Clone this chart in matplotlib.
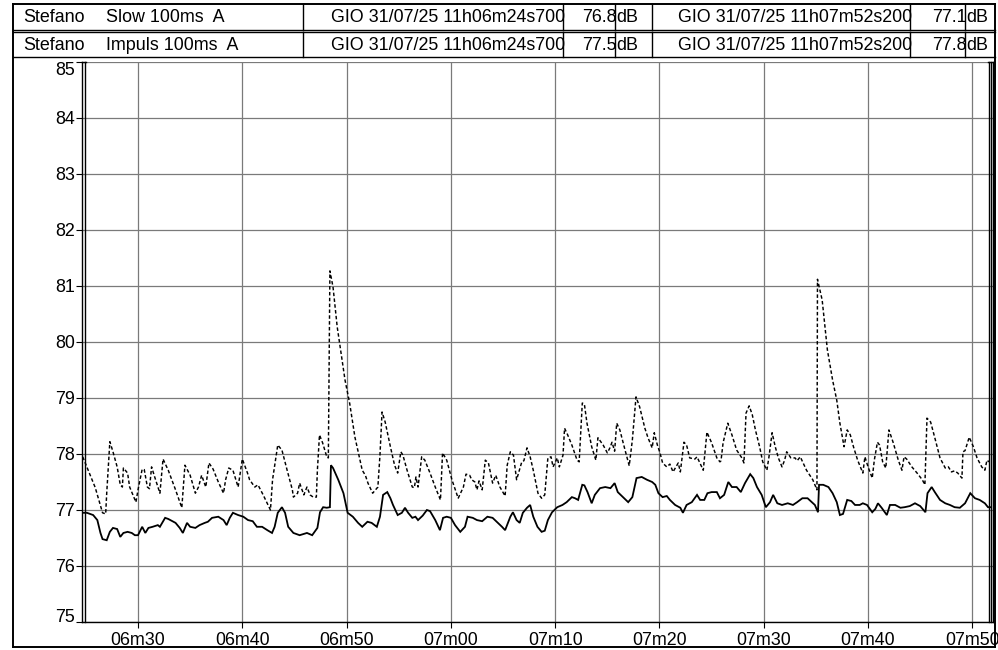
import numpy as np
import matplotlib
matplotlib.use("Agg")
from matplotlib import pyplot as plt
from matplotlib.lines import Line2D

plt.rcParams['font.family'] = ['Liberation Sans', 'DejaVu Sans']

W, H = 998, 650

# Kopfzeile
operator = "Stefano"
channels = ["Slow 100ms  A", "Impuls 100ms  A"]
cursor1_label = "GIO 31/07/25 11h06m24s700"
cursor2_label = "GIO 31/07/25 11h07m52s200"
cursor1_level = ["76.8", "77.5"]
cursor2_level = ["77.1", "77.8"]

# Zeitachse (Sekunden ab 11h06m00)
tick_secs = [30, 40, 50, 60, 70, 80, 90, 100, 110]
tick_labels = ["06m30", "06m40", "06m50", "07m00", "07m10",
               "07m20", "07m30", "07m40", "07m50"]
y_ticks = [75, 76, 77, 78, 79, 80, 81, 82, 83, 84, 85]

# Slow 100ms A (durchgezogen)
slow_t = [24.7, 25.1, 25.7, 26.1, 26.4, 26.6, 27.0, 27.3, 27.6, 28.0, 28.3, 28.6,
          29.0, 29.4, 29.7, 30.0, 30.4, 30.7, 31.0, 31.4, 31.9, 32.1, 32.6, 32.9,
          33.6, 34.0, 34.3, 34.7, 35.0, 35.5, 35.9, 36.4, 36.7, 37.1, 37.7, 38.2,
          38.5, 38.8, 39.1, 39.6, 40.1, 40.55, 41.0, 41.4, 41.9, 42.4, 42.85, 43.1,
          43.4, 43.8, 44.1, 44.4, 44.9, 45.5, 46.2, 46.7, 47.2, 47.45, 47.75, 48.1,
          48.4, 48.5, 48.7, 49.2, 49.7, 50.1, 50.6, 51.1, 51.5, 52.0, 52.4, 52.9,
          53.2, 53.5, 53.9, 54.2, 54.45, 54.9, 55.3, 55.6, 55.9, 56.3, 56.6, 56.85,
          57.3, 57.7, 58.0, 58.5, 58.95, 59.25, 59.6, 60.0, 60.4, 60.9, 61.35, 61.6,
          62.1, 62.5, 63.0, 63.5, 64.0, 64.4, 64.9, 65.2, 65.7, 65.95, 66.3, 66.6,
          66.9, 67.3, 67.6, 67.9, 68.3, 68.7, 69.0, 69.3, 69.7, 70.2, 70.7, 71.1,
          71.6, 71.9, 72.2, 72.6, 72.8, 73.1, 73.5, 73.8, 74.3, 74.8, 75.3, 75.7,
          76.0, 76.5, 77.0, 77.4, 77.8, 78.3, 78.8, 79.3, 79.6, 79.9, 80.3, 80.7,
          81.0, 81.5, 82.0, 82.25, 82.6, 83.1, 83.6, 83.9, 84.3, 84.6, 85.0, 85.5,
          85.8, 86.2, 86.6, 86.95, 87.4, 87.8, 88.2, 88.7, 89.0, 89.35, 89.8, 90.2,
          90.6, 90.9, 91.3, 91.75, 92.3, 92.8, 93.2, 93.7, 94.2, 94.6, 94.9, 95.2,
          95.3, 95.7, 96.2, 96.6, 97.0, 97.3, 97.6, 98.0, 98.4, 98.75, 99.2, 99.5,
          99.9, 100.4, 100.7, 100.95, 101.3, 101.8, 102.1, 102.6, 103.1, 103.5, 104.0, 104.5,
          105.0, 105.5, 105.7, 106.1, 106.4, 106.9, 107.4, 107.85, 108.3, 108.8, 109.3, 109.8,
          110.25, 110.7, 111.2, 111.5, 111.7]
slow_db = [76.95, 76.95, 76.91, 76.82, 76.59, 76.48, 76.46, 76.61, 76.68, 76.66, 76.52, 76.59,
           76.61, 76.59, 76.55, 76.55, 76.70, 76.59, 76.68, 76.70, 76.73, 76.70, 76.86, 76.84,
           76.77, 76.68, 76.59, 76.77, 76.70, 76.68, 76.73, 76.77, 76.79, 76.86, 76.88, 76.82,
           76.73, 76.86, 76.95, 76.91, 76.88, 76.82, 76.80, 76.70, 76.70, 76.64, 76.59, 76.70,
           76.95, 77.05, 76.95, 76.70, 76.59, 76.55, 76.59, 76.55, 76.68, 76.96, 77.05, 77.04,
           77.05, 77.80, 77.75, 77.54, 77.30, 76.95, 76.88, 76.77, 76.70, 76.79, 76.77, 76.70,
           76.88, 77.27, 77.32, 77.21, 77.09, 76.91, 76.95, 77.04, 76.95, 76.86, 76.88, 76.82,
           76.90, 77.00, 76.98, 76.82, 76.64, 76.86, 76.88, 76.86, 76.73, 76.61, 76.70, 76.88,
           76.86, 76.82, 76.80, 76.88, 76.86, 76.79, 76.70, 76.64, 76.88, 76.96, 76.82, 76.77,
           76.95, 77.04, 77.09, 76.88, 76.70, 76.61, 76.63, 76.82, 76.96, 77.05, 77.09, 77.14,
           77.23, 77.21, 77.18, 77.45, 77.44, 77.32, 77.12, 77.27, 77.39, 77.41, 77.39, 77.48,
           77.32, 77.23, 77.14, 77.23, 77.57, 77.59, 77.54, 77.50, 77.45, 77.30, 77.23, 77.25,
           77.18, 77.09, 77.04, 76.95, 77.09, 77.14, 77.27, 77.18, 77.18, 77.30, 77.32, 77.32,
           77.21, 77.27, 77.50, 77.41, 77.41, 77.32, 77.48, 77.64, 77.57, 77.41, 77.27, 77.05,
           77.14, 77.27, 77.12, 77.09, 77.12, 77.09, 77.14, 77.21, 77.21, 77.14, 77.09, 76.96,
           77.45, 77.45, 77.41, 77.30, 77.14, 76.91, 76.93, 77.18, 77.16, 77.09, 77.09, 77.12,
           77.09, 76.96, 77.02, 77.12, 77.04, 76.91, 77.09, 77.09, 77.04, 77.05, 77.07, 77.12,
           77.07, 76.96, 77.30, 77.41, 77.32, 77.18, 77.12, 77.09, 77.05, 77.04, 77.12, 77.30,
           77.21, 77.18, 77.12, 77.05, 77.05]

# Impuls 100ms A (gestrichelt)
imp_t = [24.7, 25.9, 26.6, 26.9, 27.0, 27.3, 27.6, 28.0, 28.3, 28.5, 28.6, 29.0,
         29.2, 29.8, 30.0, 30.4, 30.6, 30.9, 31.1, 31.3, 31.6, 32.1, 32.4, 32.9,
         33.6, 34.2, 34.5, 35.0, 35.5, 35.8, 36.1, 36.5, 36.8, 37.2, 37.7, 38.2,
         38.4, 38.7, 39.1, 39.6, 40.0, 40.5, 40.7, 41.2, 41.5, 42.0, 42.7, 42.9,
         43.4, 43.8, 44.3, 44.8, 44.9, 45.3, 45.5, 45.9, 46.2, 46.5, 46.8, 47.1,
         47.2, 47.4, 47.7, 48.1, 48.25, 48.4, 48.7, 49.1, 49.6, 49.85, 50.3, 50.8,
         51.5, 51.8, 52.05, 52.5, 53.0, 53.2, 53.4, 53.7, 54.2, 54.6, 54.9, 55.2,
         55.4, 55.8, 56.3, 56.5, 56.65, 56.85, 57.2, 57.5, 58.0, 58.5, 59.0, 59.2,
         59.6, 60.1, 60.7, 61.2, 61.45, 61.8, 62.0, 62.3, 62.5, 62.7, 63.0, 63.3,
         63.6, 64.0, 64.3, 64.7, 65.2, 65.4, 65.7, 66.0, 66.3, 66.8, 67.0, 67.3,
         67.6, 67.9, 68.35, 68.7, 69.0, 69.3, 69.6, 69.8, 70.2, 70.4, 70.75, 70.9,
         71.2, 71.6, 72.1, 72.3, 72.6, 72.8, 73.05, 73.5, 73.9, 74.1, 74.6, 75.0,
         75.25, 75.45, 75.7, 75.9, 76.2, 76.7, 77.1, 77.4, 77.75, 78.1, 78.6, 78.9,
         79.3, 79.5, 79.8, 80.05, 80.3, 80.7, 81.0, 81.3, 81.8, 82.0, 82.35, 82.6,
         82.9, 83.4, 83.6, 84.2, 84.55, 85.0, 85.5, 85.8, 85.9, 86.1, 86.55, 86.95,
         87.4, 87.9, 88.1, 88.3, 88.6, 88.9, 89.2, 89.6, 89.9, 90.3, 90.5, 90.8,
         91.1, 91.4, 91.75, 92.0, 92.2, 92.6, 93.0, 93.2, 93.5, 94.1, 94.7, 95.1,
         95.15, 95.6, 96.1, 96.6, 97.0, 97.3, 97.7, 98.0, 98.3, 98.6, 99.0, 99.5,
         99.7, 100.0, 100.4, 100.6, 100.9, 101.1, 101.4, 101.7, 102.0, 102.4, 102.9, 103.25,
         103.45, 103.7, 104.2, 104.7, 105.2, 105.45, 105.65, 106.0, 106.4, 106.9, 107.4, 107.7,
         108.0, 108.3, 108.6, 109.0, 109.1, 109.3, 109.7, 110.1, 110.45, 110.9, 111.2, 111.4,
         111.6]
imp_db = [77.95, 77.40, 76.95, 76.93, 77.30, 78.22, 78.04, 77.77, 77.45, 77.41, 77.75, 77.66,
          77.41, 77.14, 77.36, 77.73, 77.72, 77.41, 77.38, 77.77, 77.59, 77.30, 77.91, 77.71,
          77.36, 77.04, 77.80, 77.62, 77.30, 77.41, 77.62, 77.41, 77.84, 77.73, 77.50, 77.30,
          77.54, 77.75, 77.71, 77.41, 77.91, 77.66, 77.54, 77.41, 77.45, 77.27, 77.00, 77.54,
          78.16, 78.07, 77.71, 77.36, 77.23, 77.30, 77.48, 77.27, 77.41, 77.27, 77.23, 77.23,
          77.71, 78.34, 78.20, 77.95, 77.93, 81.27, 80.98, 80.27, 79.63, 79.32, 78.90, 78.30,
          77.71, 77.62, 77.48, 77.30, 77.41, 77.98, 78.75, 78.57, 78.13, 77.80, 77.66, 78.04,
          77.98, 77.71, 77.41, 77.40, 77.59, 77.41, 77.95, 77.89, 77.66, 77.41, 77.18, 78.02,
          77.89, 77.54, 77.21, 77.41, 77.64, 77.62, 77.54, 77.50, 77.36, 77.52, 77.36, 77.89,
          77.84, 77.48, 77.62, 77.41, 77.25, 77.80, 78.04, 77.98, 77.54, 77.86, 77.88, 78.11,
          77.95, 77.71, 77.30, 77.21, 77.27, 77.93, 77.95, 77.77, 77.93, 77.77, 77.98, 78.46,
          78.34, 78.16, 77.89, 77.86, 78.91, 78.89, 78.55, 78.13, 77.89, 78.29, 78.16, 78.02,
          78.11, 78.21, 78.05, 78.55, 78.43, 78.07, 77.79, 78.25, 79.02, 78.84, 78.46, 78.29,
          78.11, 78.38, 78.16, 78.02, 77.84, 77.77, 77.82, 77.68, 77.84, 77.68, 78.21, 78.16,
          77.93, 77.91, 77.95, 77.71, 78.39, 78.20, 77.93, 77.86, 77.88, 78.20, 78.55, 78.34,
          78.07, 77.93, 77.84, 78.73, 78.86, 78.70, 78.43, 78.13, 77.86, 77.71, 77.95, 78.38,
          78.13, 77.93, 77.77, 77.89, 78.04, 77.93, 77.93, 77.88, 77.95, 77.71, 77.54, 77.36,
          81.12, 80.75, 79.86, 79.32, 78.96, 78.55, 78.13, 78.43, 78.34, 78.13, 77.89, 77.66,
          77.95, 77.77, 77.57, 77.89, 78.21, 78.16, 77.86, 77.75, 78.43, 78.21, 77.89, 77.71,
          77.95, 77.91, 77.77, 77.66, 77.54, 77.45, 78.64, 78.57, 78.29, 77.93, 77.75, 77.77,
          77.68, 77.70, 77.66, 77.57, 78.04, 78.06, 78.30, 78.13, 77.93, 77.77, 77.71, 77.89,
          77.86]


def fx(px):
    return px / W


def fy(py):
    return 1 - py / H


fig = plt.figure(figsize=(W / 100, H / 100), dpi=100)

# Rahmen und Kopfzeile
def fline(x0, y0, x1, y1, lw=1.0):
    fig.add_artist(Line2D([fx(x0), fx(x1)], [fy(y0), fy(y1)],
                          transform=fig.transFigure, color='k', lw=lw))


fline(13, 4, 995, 4, 1.4)
fline(13, 647, 995, 647, 1.4)
fline(13, 4, 13, 647, 1.4)
fline(995, 4, 995, 647, 1.4)
fline(13, 30, 995, 30)
fline(13, 32, 995, 32)
fline(13, 57, 995, 57)
for xs in [303, 563, 615, 652, 910, 965]:
    fline(xs, 4, xs, 30)
    fline(xs, 32, xs, 57)

fs = 12.9
for i, ych in enumerate([17, 45]):
    yy = fy(ych)
    fig.text(fx(23), yy, operator, fontsize=fs, va='center', ha='left')
    fig.text(fx(106), yy, channels[i], fontsize=fs, va='center', ha='left')
    fig.text(fx(565), yy, cursor1_label, fontsize=fs, va='center', ha='right')
    fig.text(fx(617), yy, cursor1_level[i], fontsize=fs, va='center', ha='right')
    fig.text(fx(616), yy, "dB", fontsize=fs, va='center', ha='left')
    fig.text(fx(912), yy, cursor2_label, fontsize=fs, va='center', ha='right')
    fig.text(fx(967), yy, cursor2_level[i], fontsize=fs, va='center', ha='right')
    fig.text(fx(966), yy, "dB", fontsize=fs, va='center', ha='left')

# Diagramm
ax = fig.add_axes([fx(82), fy(622), fx(993) - fx(82), fy(62) - fy(622)])
ax.plot(slow_t, slow_db, color='k', lw=1.3, solid_joinstyle='miter')
ax.plot(imp_t, imp_db, color='k', lw=1.05, dashes=(2.4, 1.6))

ax.set_xlim(24.63, 111.98)
ax.set_ylim(75, 85)
ax.set_xticks(tick_secs)
ax.set_xticklabels(tick_labels)
ax.set_yticks(y_ticks)
ax.set_yticklabels([str(v) for v in y_ticks])
ax.grid(True, color='#7a7a7a', lw=0.9)
ax.set_axisbelow(True)
ax.tick_params(axis='both', labelsize=fs, length=4, width=0.8, color='k')
ax.tick_params(axis='x', pad=3)
ax.tick_params(axis='y', pad=1)
ylabs = ax.get_yticklabels()
ylabs[-1].set_va('top')
ylabs[0].set_va('baseline')

ax.spines['top'].set_visible(False)
for s in ['left', 'right', 'bottom']:
    ax.spines[s].set_linewidth(1.0)

# Cursorlinien
for xa in [0.0028]:
    ax.plot([xa, xa], [0, 1], transform=ax.transAxes, color='k', lw=1.0, clip_on=False)
for xa in [0.9956, 0.9978]:
    ax.plot([xa, xa], [0, 1], transform=ax.transAxes, color='k', lw=1.0, clip_on=False)
ax.plot([0, 0.004], [1, 1], transform=ax.transAxes, color='k', lw=1.0, clip_on=False)
ax.plot([0.995, 1], [1, 1], transform=ax.transAxes, color='k', lw=1.0, clip_on=False)

fig.savefig("out.png", dpi=100)
